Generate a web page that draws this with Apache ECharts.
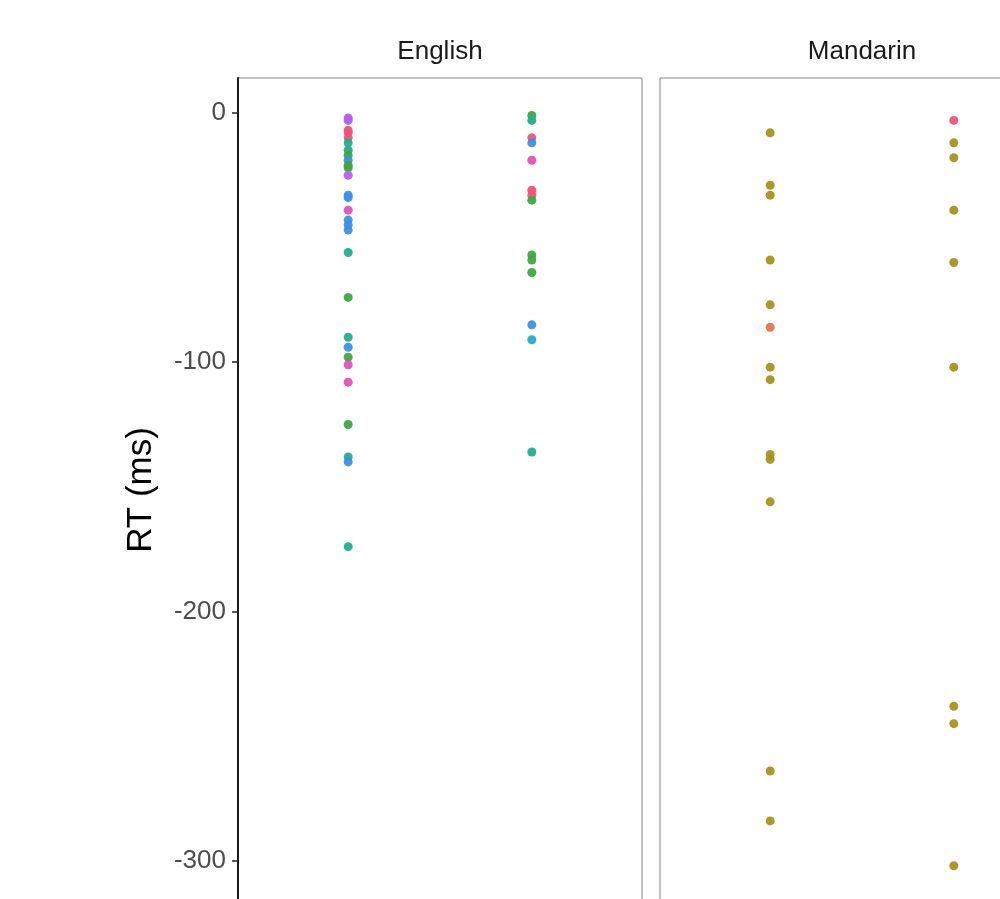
<!DOCTYPE html>
<html>
<head>
<meta charset="utf-8">
<title>RT by language</title>
<script src="https://cdn.jsdelivr.net/npm/echarts@6/dist/echarts.min.js"></script>
<style>
  html, body { margin: 0; padding: 0; overflow: hidden; background: #fff; }
  #chart { width: 1100px; height: 1000px; }
</style>
</head>
<body>
<div id="chart"></div>
<script>
// Facet panels
const facets = ['English', 'Mandarin'];

// Reaction-time differences (ms), one array per facet and x position.
const englishPos1Rt = [-2, -3, -7, -8, -10, -12, -15, -17, -19, -21, -22, -25, -33, -34, -39, -43, -45, -47, -56, -74, -90, -94, -98, -101, -108, -125, -138, -140, -174];
const englishPos1Grp = [7, 7, 0, 0, 0, 4, 4, 3, 6, 3, 3, 7, 6, 6, 8, 6, 6, 6, 4, 3, 4, 6, 3, 8, 8, 3, 4, 6, 4];
const englishPos2Rt = [-1, -3, -10, -12, -19, -31, -33, -35, -57, -59, -64, -85, -91, -136];
const englishPos2Grp = [3, 4, 0, 6, 8, 0, 0, 3, 3, 3, 3, 6, 5, 4];
const mandarinPos1Rt = [-8, -29, -33, -59, -77, -86, -102, -107, -137, -139, -156, -264, -284];
const mandarinPos1Grp = [2, 2, 2, 2, 2, 1, 2, 2, 2, 2, 2, 2, 2];
const mandarinPos2Rt = [-3, -12, -18, -39, -60, -102, -238, -245, -302];
const mandarinPos2Grp = [0, 2, 2, 2, 2, 2, 2, 2, 2];

// Y axis ticks
const yTicks = [0, -100, -200, -300];

// Group colours
const palette = ['#EC5578', '#E0764C', '#A8921F', '#3EA840', '#22AF8C', '#2AA8C6', '#3D90E6', '#B660EE', '#E251C0'];

const pxPer100 = 249.3;
const yMax = 14, yMin = -316.5;
const gridTop = 78;
const gridHeight = (yMax - yMin) / 100 * pxPer100;
const panelW = 404;
const panelLeft = [238, 660];
const font = 'Liberation Sans, Arial, sans-serif';

function points(pos, vals, grp) {
  return vals.map((v, i) => ({ value: [pos, v], itemStyle: { color: palette[grp[i]] } }));
}

const panelData = [
  points(1, englishPos1Rt, englishPos1Grp).concat(points(2, englishPos2Rt, englishPos2Grp)),
  points(1, mandarinPos1Rt, mandarinPos1Grp).concat(points(2, mandarinPos2Rt, mandarinPos2Grp))
];

const chart = echarts.init(document.getElementById('chart'), null, { renderer: 'canvas' });

const grids = panelLeft.map(l => ({
  left: l, top: gridTop, width: panelW, height: gridHeight,
  show: true, borderColor: '#858585', borderWidth: 1, backgroundColor: 'transparent'
}));

const xAxes = facets.map((f, i) => ({
  type: 'value', gridIndex: i, min: 0.4, max: 2.6,
  axisLine: { show: false }, axisTick: { show: false }, axisLabel: { show: false }, splitLine: { show: false }
}));

const yAxes = facets.map((f, i) => ({
  type: 'value', gridIndex: i, min: yMin, max: yMax,
  axisLine: { show: i === 0, onZero: false, lineStyle: { color: '#1a1a1a', width: 2 } },
  axisTick: { show: i === 0, length: 6, lineStyle: { color: '#222', width: 1.5 },
    customValues: yTicks },
  axisLabel: { show: i === 0, margin: 12, color: '#4D4D4D', fontSize: 26,
    fontFamily: font, customValues: yTicks, padding: [4, 0, 0, 0] },
  splitLine: { show: false },
  name: i === 0 ? 'RT (ms)' : '',
  nameLocation: 'middle', nameGap: 79, nameRotate: 90,
  nameTextStyle: { color: '#000', fontSize: 35, fontFamily: font }
}));

const series = facets.map((f, i) => ({
  type: 'scatter', xAxisIndex: i, yAxisIndex: i,
  symbol: 'circle', symbolSize: 9,
  data: panelData[i],
  itemStyle: { opacity: 0.95 },
  silent: true
}));

chart.setOption({
  animation: false,
  grid: grids,
  xAxis: xAxes,
  yAxis: yAxes,
  series: series,
  // facet strip titles
  graphic: facets.map((f, i) => ({
    type: 'text', x: panelLeft[i] + panelW / 2, y: 52,
    style: { text: f, fill: '#1A1A1A', fontSize: 26, fontFamily: font,
      align: 'center', verticalAlign: 'middle' },
    silent: true
  }))
});
</script>
</body>
</html>
